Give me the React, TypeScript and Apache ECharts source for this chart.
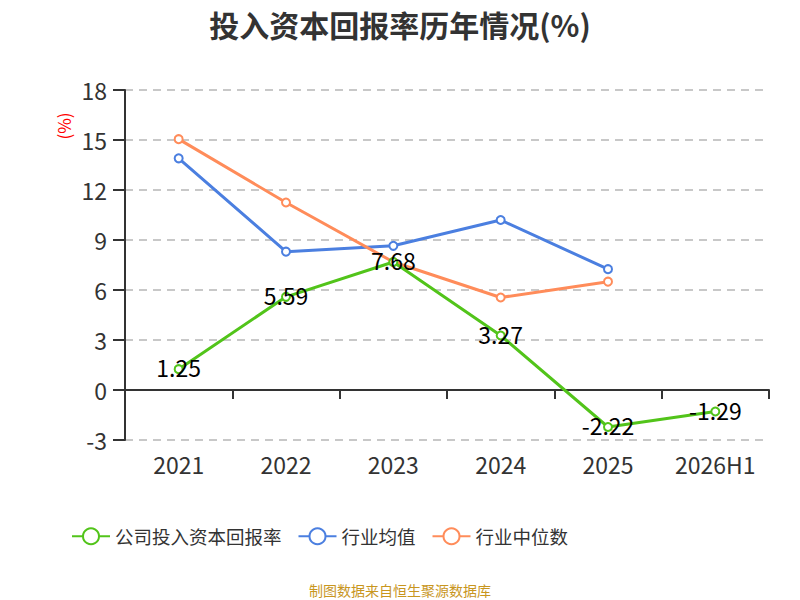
import React, { useEffect, useRef } from "react";
import * as echarts from "echarts";

const categories = ["2021", "2022", "2023", "2024", "2025", "2026H1"];
const companyValues = [1.25, 5.59, 7.68, 3.27, -2.22, -1.29];
const industryAvg = [13.9, 8.3, 8.65, 10.2, 7.25, null];
const industryMedian = [15.05, 11.25, 7.68, 5.55, 6.5, null];
const seriesNames = ["公司投入资本回报率", "行业均值", "行业中位数"];
const titleText = "投入资本回报率历年情况(%)";
const footerText = "制图数据来自恒生聚源数据库";

const FONT = "'Noto Sans CJK SC', 'Noto Sans', sans-serif";

export default function App() {
  const ref = useRef<HTMLDivElement>(null);
  useEffect(() => {
    document.body.style.margin = "0";
    if (!ref.current) return;
    const chart = echarts.init(ref.current, undefined, { renderer: "svg" });
    const colors = ["#52c41a", "#4b7fe0", "#ff8c5a"];
    const mk = (name: string, data: any[], color: string, label: boolean) => ({
      name,
      type: "line",
      data,
      symbol: "emptyCircle",
      symbolSize: 8,
      itemStyle: { color, borderWidth: 2 },
      lineStyle: { color, width: 3 },
      z: label ? 3 : 2,
      label: label
        ? {
            show: true,
            position: "inside",
            offset: [0, -2],
            color: "#000",
            fontSize: 23,
            fontFamily: FONT,
          }
        : { show: false },
    });
    chart.setOption({
      animation: false,
      backgroundColor: "#fff",
      textStyle: { fontFamily: FONT },
      title: {
        text: titleText,
        left: "center",
        top: 4,
        textStyle: { fontSize: 30, fontWeight: "bold", color: "#333", fontFamily: FONT },
      },
      legend: {
        data: seriesNames,
        left: 66,
        top: 522,
        itemWidth: 38,
        itemHeight: 20,
        itemGap: 16,
        textStyle: { fontSize: 18.5, color: "#333", fontFamily: FONT },
      },
      grid: { left: 125, right: 31, top: 90, bottom: 160 },
      xAxis: {
        type: "category",
        data: categories,
        boundaryGap: true,
        axisLine: { onZero: true, lineStyle: { color: "#333", width: 2 } },
        axisTick: { show: true, length: 9, lineStyle: { color: "#333", width: 2 } },
        axisLabel: { fontSize: 23, color: "#333", margin: 12, fontFamily: FONT },
        splitLine: { show: false },
      },
      yAxis: {
        type: "value",
        min: -3,
        max: 18,
        interval: 3,
        axisLine: { show: true, lineStyle: { color: "#333", width: 2 } },
        axisTick: { show: true, length: 12, lineStyle: { color: "#333", width: 2 } },
        axisLabel: { fontSize: 23, color: "#333", margin: 18, fontFamily: FONT },
        splitLine: { show: true, lineStyle: { color: "#c8c8c8", type: [8, 6], width: 2 } },
      },
      graphic: [
        {
          type: "text",
          x: 63,
          y: 126,
          rotation: Math.PI / 2,
          style: {
            text: "(%)",
            fill: "#ff0000",
            fontSize: 17,
            fontFamily: FONT,
            align: "center",
            verticalAlign: "middle",
          },
        },
        {
          type: "text",
          x: 400,
          y: 590,
          style: {
            text: footerText,
            fill: "#c8961e",
            fontSize: 14,
            fontFamily: FONT,
            align: "center",
            verticalAlign: "middle",
          },
        },
      ],
      series: [
        mk(seriesNames[0], companyValues, colors[0], true),
        mk(seriesNames[1], industryAvg, colors[1], false),
        mk(seriesNames[2], industryMedian, colors[2], false),
      ],
    });
    return () => chart.dispose();
  }, []);
  return <div ref={ref} style={{ width: 800, height: 600 }} />;
}
